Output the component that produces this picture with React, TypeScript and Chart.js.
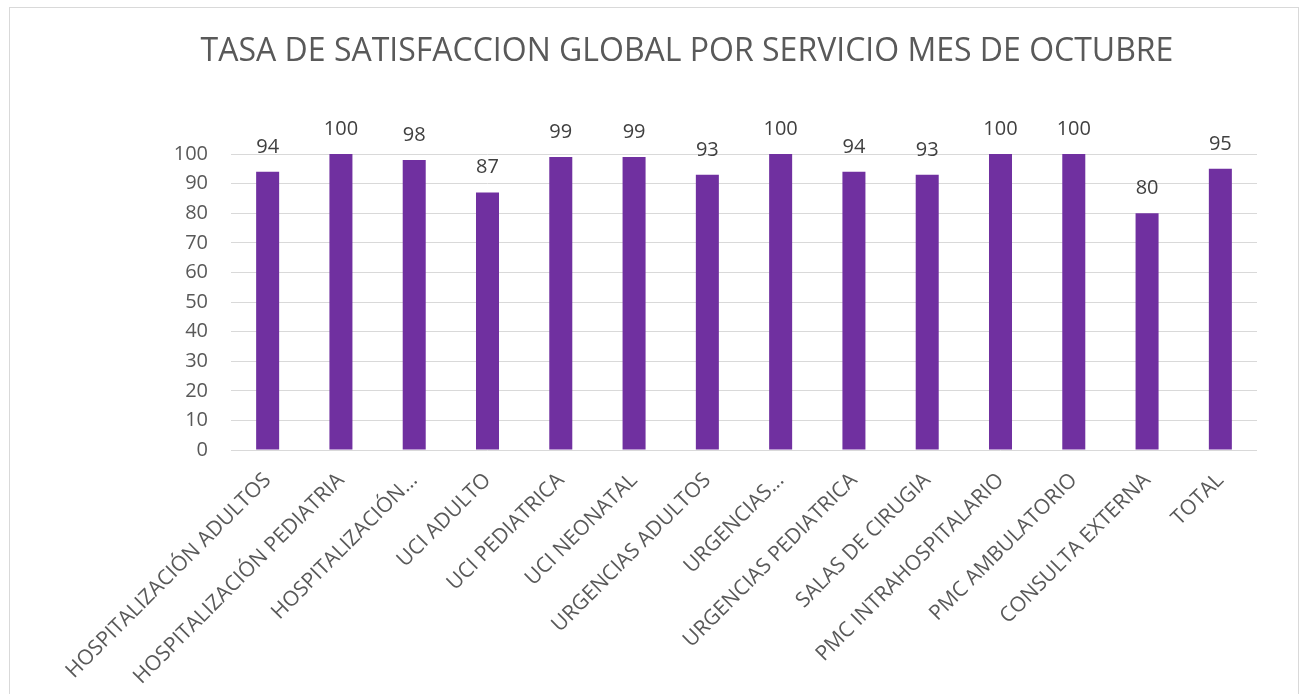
import React, { useEffect, useRef } from "react";
import { Chart, registerables } from "chart.js";

Chart.register(...registerables);

const TITLE = "TASA DE SATISFACCION GLOBAL POR SERVICIO MES DE OCTUBRE";
const categories = [
  "HOSPITALIZACIÓN ADULTOS",
  "HOSPITALIZACIÓN PEDIATRIA",
  "HOSPITALIZACIÓN...",
  "UCI ADULTO",
  "UCI PEDIATRICA",
  "UCI NEONATAL",
  "URGENCIAS ADULTOS",
  "URGENCIAS...",
  "URGENCIAS PEDIATRICA",
  "SALAS DE CIRUGIA",
  "PMC INTRAHOSPITALARIO",
  "PMC AMBULATORIO",
  "CONSULTA EXTERNA",
  "TOTAL",
];
const values = [94, 100, 98, 87, 99, 99, 93, 100, 94, 93, 100, 100, 80, 95];
const yMin = 0;
const yMax = 100;
const yStep = 10;

const FONT = "'Open Sans', sans-serif";

export default function App() {
  const ref = useRef<HTMLCanvasElement | null>(null);

  useEffect(() => {
    if (!ref.current) return;
    const overlay = {
      id: "overlay",
      afterDraw(chart: any) {
        const ctx = chart.ctx;
        ctx.save();
        ctx.fillStyle = "#595959";
        ctx.font = `32px ${FONT}`;
        ctx.textAlign = "center";
        ctx.textBaseline = "alphabetic";
        ctx.fillText(TITLE, 687, 61);
        const meta = chart.getDatasetMeta(0);
        ctx.fillStyle = "#404040";
        ctx.font = `20px ${FONT}`;
        meta.data.forEach((bar: any, i: number) => {
          ctx.fillText(String(values[i]), bar.x, bar.y - 19);
        });
        ctx.restore();
      },
    };
    const chart = new Chart(ref.current, {
      type: "bar",
      data: {
        labels: categories,
        datasets: [
          {
            data: values,
            backgroundColor: "#7030A0",
            borderWidth: 0,
            barPercentage: 0.314,
            categoryPercentage: 1,
          },
        ],
      },
      options: {
        responsive: false,
        animation: false,
        events: [],
        layout: { padding: { left: 0, right: 43, top: 154, bottom: 0 } },
        plugins: {
          legend: { display: false },
          title: { display: false },
          tooltip: { enabled: false },
        },
        scales: {
          x: {
            grid: { display: false },
            border: { display: false },
            ticks: {
              autoSkip: false,
              maxRotation: 45,
              minRotation: 45,
              padding: 10,
              color: "#595959",
              font: { family: FONT, size: 21 },
            },
            afterFit(scale: any) {
              scale.height = 244;
            },
          },
          y: {
            min: yMin,
            max: yMax,
            grid: { color: "#d9d9d9", lineWidth: 1, drawTicks: false },
            border: { display: false },
            ticks: {
              stepSize: yStep,
              padding: 23,
              color: "#595959",
              font: { family: FONT, size: 20 },
            },
            afterFit(scale: any) {
              scale.width = 231;
            },
          },
        },
      },
      plugins: [overlay],
    });
    return () => chart.destroy();
  }, []);

  return (
    <div style={{ position: "fixed", left: 0, top: 0, width: 1300, height: 694, overflow: "hidden", background: "#fff" }}>
      <div
        style={{
          position: "absolute",
          left: 9,
          top: 7,
          width: 1288,
          height: 720,
          border: "1px solid #d9d9d9",
        }}
      />
      <canvas ref={ref} width={1300} height={694} style={{ position: "absolute", left: 0, top: 0, width: 1300, height: 694 }} />
    </div>
  );
}
